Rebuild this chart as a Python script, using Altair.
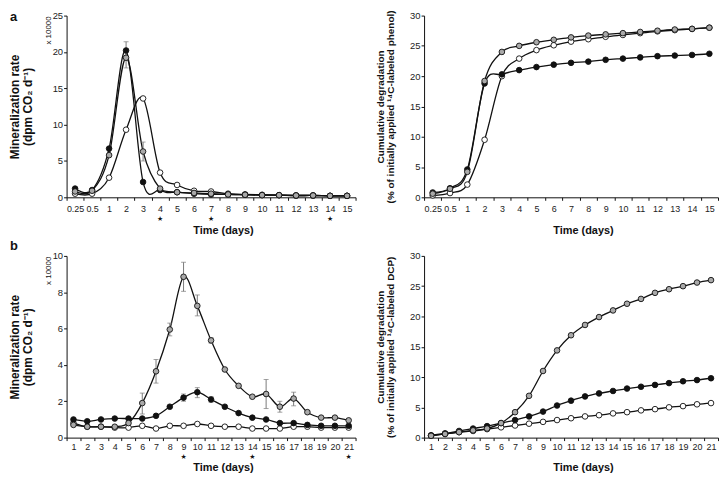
import altair as alt
import pandas as pd

FONT = "Liberation Sans"

# ---------------- Panel a (phenol) ----------------
a_days = ["0.25", "0.5", "1", "2", "3", "4", "5", "6", "7", "8", "9", "10", "11", "12", "13", "14", "15"]
a_rate_black = [1.2, 1.0, 6.7, 20.2, 2.1, 1.0, 0.7, 0.5, 0.4, 0.4, 0.35, 0.3, 0.3, 0.25, 0.25, 0.2, 0.2]
a_rate_gray = [0.8, 0.9, 5.8, 19.2, 6.3, 1.2, 0.7, 0.6, 0.5, 0.4, 0.35, 0.3, 0.3, 0.25, 0.25, 0.2, 0.2]
a_rate_white = [0.5, 0.5, 2.7, 9.3, 13.6, 3.4, 1.7, 0.9, 0.8, 0.5, 0.4, 0.35, 0.3, 0.25, 0.25, 0.2, 0.2]
a_err_series = ["black", "gray", "gray"]
a_err_day = ["2", "2", "3"]
a_err_lo = [19.0, 17.8, 5.0]
a_err_hi = [21.4, 20.4, 7.6]
a_stars = ["4", "7", "14"]

a_cum_black = [0.8, 1.5, 4.6, 18.8, 20.3, 21.0, 21.5, 21.9, 22.2, 22.4, 22.7, 22.9, 23.1, 23.3, 23.4, 23.5, 23.7]
a_cum_gray = [0.6, 1.4, 4.2, 19.2, 24.0, 25.0, 25.6, 26.0, 26.4, 26.7, 26.9, 27.1, 27.3, 27.5, 27.7, 27.8, 28.0]
a_cum_white = [0.3, 0.7, 2.1, 9.5, 20.0, 22.9, 24.3, 25.1, 25.7, 26.1, 26.5, 26.8, 27.1, 27.4, 27.6, 27.8, 28.0]

# ---------------- Panel b (DCP) ----------------
b_days = [str(d) for d in range(1, 22)]
b_rate_gray = [0.7, 0.6, 0.6, 0.6, 0.8, 1.9, 3.65, 5.95, 8.85, 7.25, 5.35, 3.75, 2.85, 2.25, 2.4, 1.7, 2.15, 1.4, 1.1, 1.1, 0.95]
b_rate_black = [1.0, 0.9, 1.0, 1.05, 1.05, 1.05, 1.2, 1.7, 2.2, 2.5, 2.1, 1.7, 1.35, 1.1, 1.0, 0.8, 0.8, 0.7, 0.65, 0.65, 0.65]
b_rate_white = [0.8, 0.6, 0.6, 0.55, 0.55, 0.65, 0.5, 0.65, 0.65, 0.75, 0.65, 0.6, 0.6, 0.5, 0.5, 0.5, 0.6, 0.6, 0.55, 0.55, 0.55]
b_err_series = ["gray"] * 9 + ["black"] * 3
b_err_day = ["6", "7", "8", "9", "10", "11", "15", "16", "17", "9", "10", "11"]
b_err_lo = [1.3, 3.0, 5.6, 8.05, 6.7, 5.2, 1.6, 1.4, 1.75, 2.0, 2.2, 1.95]
b_err_hi = [2.45, 4.3, 6.3, 9.65, 7.85, 5.5, 3.2, 2.0, 2.5, 2.4, 2.75, 2.25]
b_stars = ["9", "14", "21"]

b_cum_gray = [0.3, 0.6, 0.9, 1.2, 1.5, 2.4, 4.2, 6.9, 11.0, 14.4, 16.9, 18.6, 19.9, 21.0, 22.1, 22.9, 23.9, 24.5, 25.0, 25.6, 26.0]
b_cum_black = [0.4, 0.7, 1.1, 1.5, 1.9, 2.4, 2.9, 3.5, 4.3, 5.3, 6.1, 6.8, 7.3, 7.7, 8.1, 8.4, 8.7, 9.0, 9.3, 9.5, 9.8]
b_cum_white = [0.3, 0.6, 0.9, 1.1, 1.4, 1.7, 2.0, 2.3, 2.6, 2.9, 3.2, 3.5, 3.7, 4.0, 4.2, 4.5, 4.7, 5.0, 5.2, 5.5, 5.7]

SERIES = ["white", "black", "gray"]
FILLS = ["#ffffff", "#111111", "#a9a9a9"]


def long_df(days, black, gray, white):
    rows = []
    for name, vals in (("white", white), ("black", black), ("gray", gray)):
        for d, v in zip(days, vals):
            rows.append({"day": d, "series": name, "value": v})
    return pd.DataFrame(rows)


def panel(days, black, gray, white, ymax, ystep, ytitle, title_size, title_pad,
          width, height, label_pad, x_title_pad, star_y=20, mult=False, err=None, stars=None):
    df = long_df(days, black, gray, white)
    xenc = alt.X(
        "day:O",
        scale=alt.Scale(type="band", domain=days, paddingInner=0, paddingOuter=0),
        axis=alt.Axis(title="Time (days)", tickBand="extent", labelAngle=0, tickSize=3,
                      labelPadding=label_pad, titlePadding=x_title_pad, titleFontSize=11,
                      titleFontWeight="bold", labelFontSize=9, titleX=width / 2 + 12),
    )
    yaxis = alt.Axis(values=list(range(0, ymax + 1, ystep)), grid=False, title=ytitle,
                     tickSize=3, labelPadding=1, titlePadding=title_pad,
                     titleFontSize=title_size, titleFontWeight="bold",
                     titleLineHeight=title_size + 0.5, labelFontSize=9.5)
    yscale = alt.Scale(domain=[0, ymax], nice=False)
    base = alt.Chart(df).encode(
        x=xenc,
        y=alt.Y("value:Q", scale=yscale, axis=yaxis),
    )
    layers = []
    lines = base.mark_line(interpolate="cardinal", color="#111111", strokeWidth=1.3).encode(
        detail="series:N", order=alt.Order("day_idx:Q")
    ).transform_calculate(day_idx="indexof(%s, datum.day)" % str(days))
    layers.append(lines)
    if err is not None:
        edf = pd.DataFrame({"day": err[1], "series": err[0], "lo": err[2], "hi": err[3]})
        eb = alt.Chart(edf)
        layers.append(eb.mark_rule(color="#7a7a7a", strokeWidth=1).encode(
            x=xenc, y=alt.Y("lo:Q", scale=yscale, axis=yaxis), y2="hi:Q"))
        layers.append(eb.mark_tick(color="#7a7a7a", thickness=1, size=5).encode(
            x=xenc, y=alt.Y("lo:Q", scale=yscale, axis=yaxis)))
        layers.append(eb.mark_tick(color="#7a7a7a", thickness=1, size=5).encode(
            x=xenc, y=alt.Y("hi:Q", scale=yscale, axis=yaxis)))
    pts = base.mark_point(shape="circle", filled=True, size=32, stroke="#111111",
                          strokeWidth=0.9, opacity=1).encode(
        fill=alt.Fill("series:N", scale=alt.Scale(domain=SERIES, range=FILLS), legend=None),
        order=alt.Order("series_order:Q"),
    ).transform_calculate(series_order="indexof(['white','black','gray'], datum.series)")
    layers.append(pts)
    if stars is not None:
        sdf = pd.DataFrame({"day": stars})
        layers.append(alt.Chart(sdf).mark_text(text="\u2605", fontSize=7, color="#111111",
                                               font="DejaVu Sans", baseline="middle").encode(
            x=xenc, y=alt.value(height + star_y)))
    if mult:
        layers.append(alt.Chart(pd.DataFrame({"t": ["x 10000"]})).mark_text(
            angle=270, fontSize=8, color="#111111", baseline="middle", align="center").encode(
            x=alt.value(-18), y=alt.value(15), text="t:N"))
    return alt.layer(*layers).properties(width=width, height=height)


left_title = ["Mineralization rate", "(dpm CO\u2082 d\u207b\u00b9)"]

a1 = panel(a_days, a_rate_black, a_rate_gray, a_rate_white, 25, 5, left_title, 12, 18,
           291, 183, 4, 11, star_y=22, mult=True,
           err=(a_err_series, a_err_day, a_err_lo, a_err_hi), stars=a_stars)
a2 = panel(a_days, a_cum_black, a_cum_gray, a_cum_white, 30, 5,
           ["Cumulative degradation", "(% of initially applied \u00b9\u2074C-labeled phenol)"], 10, 14,
           296, 183, 4, 11)
b1 = panel(b_days, b_rate_black, b_rate_gray, b_rate_white, 10, 2, left_title, 12, 18,
           291, 183, 2, 10, star_y=20, mult=True,
           err=(b_err_series, b_err_day, b_err_lo, b_err_hi), stars=b_stars)
b2 = panel(b_days, b_cum_black, b_cum_gray, b_cum_white, 30, 5,
           ["Cumulative degradation", "(% of initially applied \u00b9\u2074C-labeled DCP)"], 10, 14,
           296, 183, 2, 10)


def letter_layer(ch, y):
    return alt.Chart(pd.DataFrame({"t": [ch]})).mark_text(
        fontSize=13, fontWeight="bold", color="#111111", baseline="top", align="left").encode(
        x=alt.value(-57), y=alt.value(y), text="t:N")


a1 = alt.layer(a1, letter_layer("a", -5))
b1 = alt.layer(b1, letter_layer("b", -16))

chart = alt.vconcat(
    alt.hconcat(a1, a2, spacing=18),
    alt.hconcat(b1, b2, spacing=18),
    spacing=5,
).properties(padding=0).configure_view(stroke=None).configure_axis(
    domainColor="#111111", tickColor="#111111", labelColor="#222222", titleColor="#111111",
    labelFont=FONT, titleFont=FONT,
).configure_text(font=FONT)

chart.save("out.html", embed_options={"renderer": "svg", "actions": False})
